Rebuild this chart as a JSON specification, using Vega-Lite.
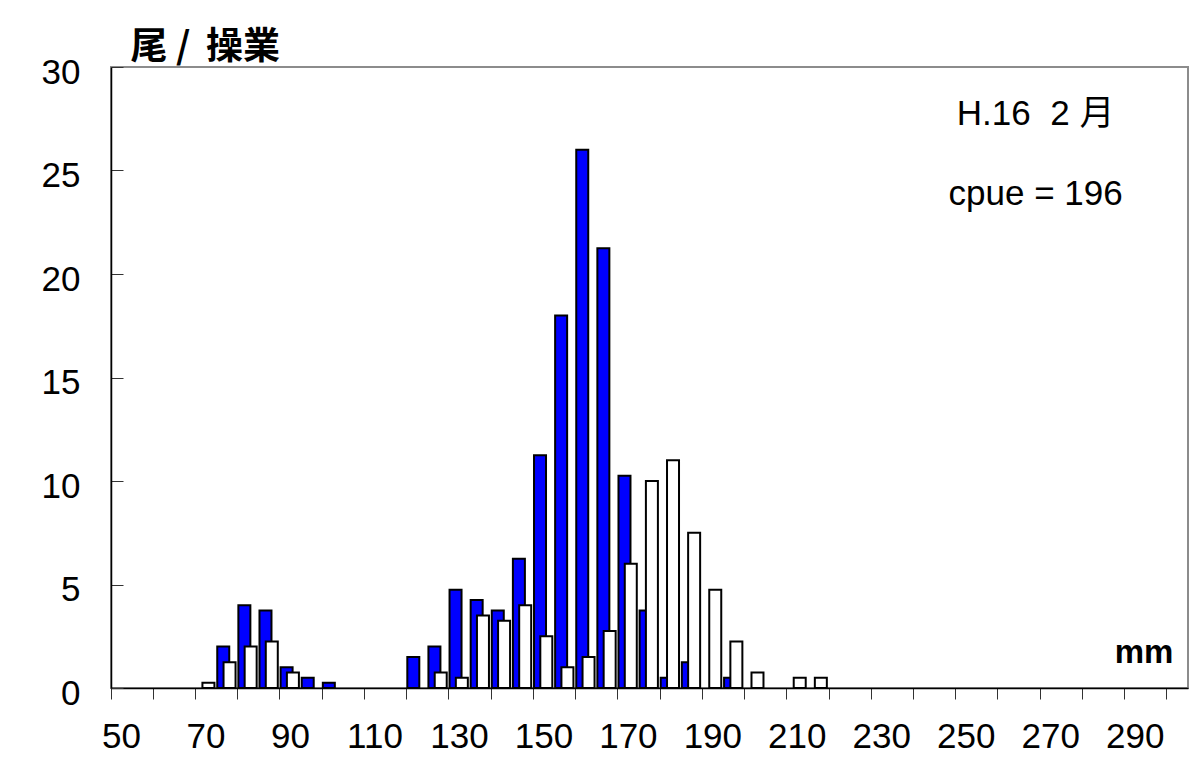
{
  "$schema": "https://vega.github.io/schema/vega-lite/v6.json",
  "width": 1077,
  "height": 621,
  "autosize": {"type": "none"},
  "padding": {"left": 111, "top": 67, "right": 6, "bottom": 81},
  "background": "white",
  "config": {
    "font": "Liberation Sans, Arial, Noto Sans CJK JP",
    "view": {"stroke": "#8c8c8c", "strokeWidth": 2}
  },
  "datasets": {
    "bars": [
      {"len": 75, "series": "blue", "n": 2},
      {"len": 80, "series": "blue", "n": 4},
      {"len": 85, "series": "blue", "n": 3.75},
      {"len": 90, "series": "blue", "n": 1},
      {"len": 95, "series": "blue", "n": 0.5},
      {"len": 100, "series": "blue", "n": 0.25},
      {"len": 120, "series": "blue", "n": 1.5},
      {"len": 125, "series": "blue", "n": 2},
      {"len": 130, "series": "blue", "n": 4.75},
      {"len": 135, "series": "blue", "n": 4.25},
      {"len": 140, "series": "blue", "n": 3.75},
      {"len": 145, "series": "blue", "n": 6.25},
      {"len": 150, "series": "blue", "n": 11.25},
      {"len": 155, "series": "blue", "n": 18},
      {"len": 160, "series": "blue", "n": 26},
      {"len": 165, "series": "blue", "n": 21.25},
      {"len": 170, "series": "blue", "n": 10.25},
      {"len": 175, "series": "blue", "n": 3.75},
      {"len": 180, "series": "blue", "n": 0.5},
      {"len": 185, "series": "blue", "n": 1.25},
      {"len": 195, "series": "blue", "n": 0.5},
      {"len": 70, "series": "white", "n": 0.25},
      {"len": 75, "series": "white", "n": 1.25},
      {"len": 80, "series": "white", "n": 2},
      {"len": 85, "series": "white", "n": 2.25},
      {"len": 90, "series": "white", "n": 0.75},
      {"len": 125, "series": "white", "n": 0.75},
      {"len": 130, "series": "white", "n": 0.5},
      {"len": 135, "series": "white", "n": 3.5},
      {"len": 140, "series": "white", "n": 3.25},
      {"len": 145, "series": "white", "n": 4},
      {"len": 150, "series": "white", "n": 2.5},
      {"len": 155, "series": "white", "n": 1},
      {"len": 160, "series": "white", "n": 1.5},
      {"len": 165, "series": "white", "n": 2.75},
      {"len": 170, "series": "white", "n": 6},
      {"len": 175, "series": "white", "n": 10},
      {"len": 180, "series": "white", "n": 11},
      {"len": 185, "series": "white", "n": 7.5},
      {"len": 190, "series": "white", "n": 4.75},
      {"len": 195, "series": "white", "n": 2.25},
      {"len": 200, "series": "white", "n": 0.75},
      {"len": 210, "series": "white", "n": 0.5},
      {"len": 215, "series": "white", "n": 0.5}
    ],
    "notes": [
      {"label": "H.16\u00a0\u00a02 月", "len": 265, "n": 27.2},
      {"label": "cpue = 196", "len": 265, "n": 23.33}
    ],
    "unit": [
      {"label": "mm", "len": 300, "n": 1.19}
    ]
  },
  "data": {"name": "bars"},
  "encoding": {
    "x": {
      "field": "len",
      "type": "ordinal",
      "scale": {
        "domain": [50, 55, 60, 65, 70, 75, 80, 85, 90, 95, 100, 105, 110, 115, 120, 125, 130, 135, 140, 145, 150, 155, 160, 165, 170, 175, 180, 185, 190, 195, 200, 205, 210, 215, 220, 225, 230, 235, 240, 245, 250, 255, 260, 265, 270, 275, 280, 285, 290, 295, 300],
        "paddingInner": 0,
        "paddingOuter": 0
      },
      "axis": {
        "values": [50, 60, 70, 80, 90, 100, 110, 120, 130, 140, 150, 160, 170, 180, 190, 200, 210, 220, 230, 240, 250, 260, 270, 280, 290, 300],
        "bandPosition": 0,
        "labelExpr": "(datum.value - 50) % 20 === 0 ? datum.label : ''",
        "labelAngle": 0,
        "labelOverlap": false,
        "labelFontSize": 35,
        "labelColor": "black",
        "labelPadding": 20,
        "tickSize": 11,
        "tickColor": "#333333",
        "tickWidth": 1,
        "domainColor": "black",
        "domainWidth": 1.5,
        "title": null,
        "grid": false
      }
    },
    "y": {
      "field": "n",
      "type": "quantitative",
      "scale": {"domain": [0, 30], "nice": false},
      "axis": {
        "values": [0, 5, 10, 15, 20, 25, 30],
        "tickSize": -12,
        "tickColor": "#333333",
        "tickWidth": 1,
        "labelPadding": 43,
        "labelFontSize": 35,
        "labelColor": "black",
        "labelFlush": false,
        "labelOffset": 5,
        "domainColor": "black",
        "domainWidth": 1.5,
        "grid": false,
        "title": "尾 / \u2009操業",
        "titleAngle": 0,
        "titleAlign": "left",
        "titleBaseline": "alphabetic",
        "titleX": 19,
        "titleY": -9,
        "titleFont": "Noto Sans CJK JP",
        "titleFontSize": 37,
        "titleFontWeight": "bold",
        "titleColor": "black"
      }
    }
  },
  "layer": [
    {
      "transform": [{"filter": "datum.series === 'blue'"}],
      "mark": {"type": "bar", "fill": "#0000ff", "stroke": "black", "strokeWidth": 2, "width": 12, "xOffset": -3.9}
    },
    {
      "transform": [{"filter": "datum.series === 'white'"}],
      "mark": {"type": "bar", "fill": "#ffffff", "stroke": "black", "strokeWidth": 2, "width": 12, "xOffset": 2.4}
    },
    {
      "data": {"name": "notes"},
      "mark": {"type": "text", "fontSize": 35, "align": "center", "baseline": "alphabetic", "dx": 6, "fill": "black"},
      "encoding": {"text": {"field": "label", "type": "nominal"}}
    },
    {
      "data": {"name": "unit"},
      "mark": {"type": "text", "fontSize": 33, "fontWeight": "bold", "align": "right", "baseline": "alphabetic", "dx": -4, "fill": "black"},
      "encoding": {"text": {"field": "label", "type": "nominal"}}
    }
  ]
}
